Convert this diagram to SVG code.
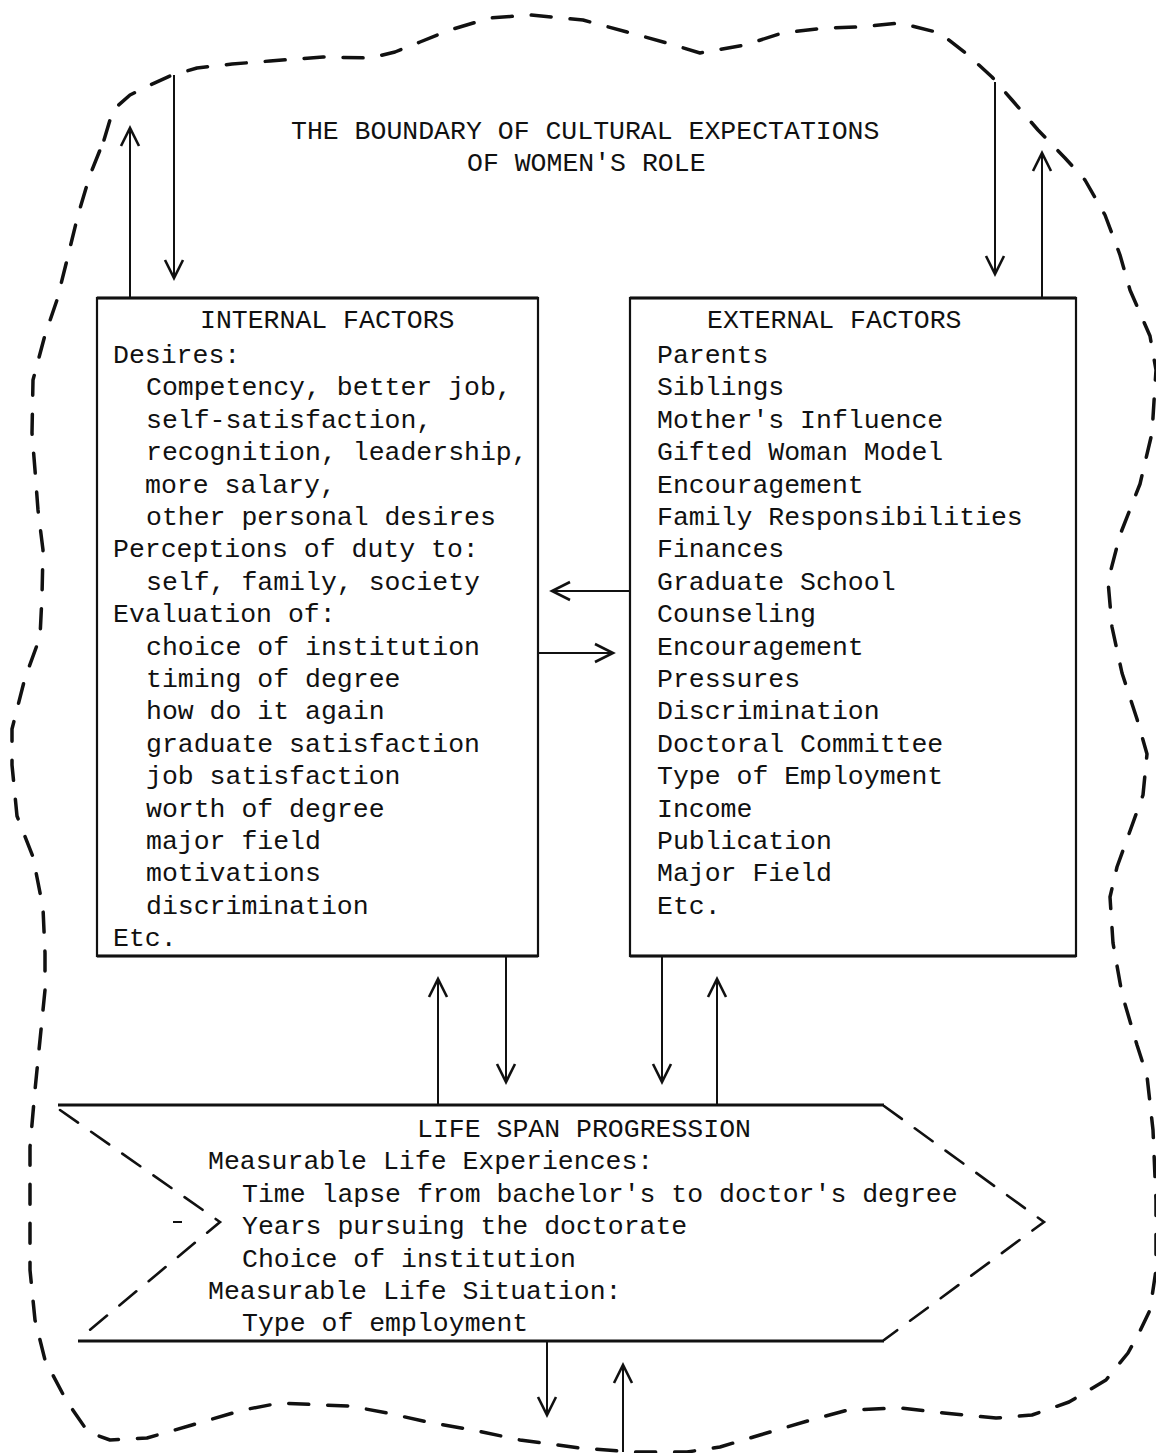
<svg xmlns="http://www.w3.org/2000/svg" width="1156" height="1453" viewBox="0 0 1156 1453">
<defs>
<style>
.t{font-family:"Liberation Mono","Courier New",monospace;font-size:26.5px;fill:#111}
.ln{stroke:#111;stroke-width:2;fill:none}
.bx{stroke:#111;stroke-width:2.2;fill:none}
.thick{stroke:#111;stroke-width:3.2;fill:none}
.dash{stroke:#111;stroke-width:3.5;fill:none;stroke-dasharray:20 19;stroke-linecap:round;stroke-linejoin:round}
.dash2{stroke:#111;stroke-width:2.6;fill:none;stroke-dasharray:22 16;stroke-linecap:round}
</style>
<marker id="ah" markerUnits="userSpaceOnUse" markerWidth="24" markerHeight="24" refX="20" refY="12" orient="auto">
<path d="M2,3 L20,12 L2,21" fill="none" stroke="#111" stroke-width="2.6" stroke-linejoin="miter"/>
</marker>
</defs>
<rect width="1156" height="1453" fill="#fff"/>

<g id="boundary">
<path class="dash" d="M104,140 L113,110 L130,95 L148,86 L170,76 L197,68 L232,64 L270,61 L323,57 L370,58 L395,52 L420,42 L450,30 L490,18 L531,15 L583,20 L627,32 L667,43 L700,53 L745,45 L782,33 L826,28 L859,27 L900,23 L940,33 L968,55 L992,77 L1012,100 L1038,130 L1065,158 L1085,180 L1105,215 L1120,255 L1130,290 L1150,336 L1156,370 L1152,433 L1140,484 L1120,535 L1108,581 L1112,627 L1122,673 L1137,719 L1147,754 L1143,795 L1130,831 L1117,867 L1110,897 L1113,943 L1122,994 L1137,1045 L1147,1076 L1153,1130 L1156,1200 L1156,1270 L1150,1310 L1139,1333 L1128,1353 L1106,1380 L1069,1402 L1032,1415 L996,1418 L944,1413 L900,1408 L848,1410 L811,1420 L760,1435 L720,1447 L687,1452 L633,1452 L580,1448 L520,1440 L473,1430 L432,1423 L387,1413 L350,1406 L324,1405 L280,1403 L243,1410 L192,1425 L147,1438 L110,1440 L88,1432 L66,1400 L45,1360 L35,1320 L30,1270 L30,1220 L30,1147 L35,1090 L40,1040 L45,990 L45,953 L43,908 L33,857 L17,816 L12,765 L12,729 L25,678 L40,637 L42,596 L43,550 L38,510 L35,470 L32,433 L33,380 L45,335 L57,300 L67,260 L78,215 L90,175 Z"/>
<text class="t" x="291" y="139">THE BOUNDARY OF CULTURAL EXPECTATIONS</text>
<text class="t" x="467" y="171">OF WOMEN'S ROLE</text>
</g>

<g id="internal">
<rect class="bx" x="97" y="298" width="441" height="658"/>
<line class="thick" x1="97" y1="298" x2="538" y2="298"/>
<line class="thick" x1="97" y1="956" x2="538" y2="956"/>
<text class="t" x="200" y="328">INTERNAL FACTORS</text>
<text class="t" x="113" y="363">Desires:</text>
<text class="t" x="146" y="395.4">Competency, better job,</text>
<text class="t" x="146" y="427.8">self-satisfaction,</text>
<text class="t" x="146" y="460.2">recognition, leadership,</text>
<text class="t" x="145" y="492.6">more salary,</text>
<text class="t" x="146" y="525">other personal desires</text>
<text class="t" x="113" y="557.4">Perceptions of duty to:</text>
<text class="t" x="146" y="589.8">self, family, society</text>
<text class="t" x="113" y="622.2">Evaluation of:</text>
<text class="t" x="146" y="654.6">choice of institution</text>
<text class="t" x="146" y="687">timing of degree</text>
<text class="t" x="146" y="719.4">how do it again</text>
<text class="t" x="146" y="751.8">graduate satisfaction</text>
<text class="t" x="146" y="784.2">job satisfaction</text>
<text class="t" x="146" y="816.6">worth of degree</text>
<text class="t" x="146" y="849">major field</text>
<text class="t" x="146" y="881.4">motivations</text>
<text class="t" x="146" y="913.8">discrimination</text>
<text class="t" x="113" y="946.2">Etc.</text>
</g>

<g id="external">
<rect class="bx" x="630" y="298" width="446" height="658"/>
<line class="thick" x1="630" y1="298" x2="1076" y2="298"/>
<line class="thick" x1="630" y1="956" x2="1076" y2="956"/>
<text class="t" x="707" y="328">EXTERNAL FACTORS</text>
<text class="t" x="657" y="363">Parents</text>
<text class="t" x="657" y="395.4">Siblings</text>
<text class="t" x="657" y="427.8">Mother's Influence</text>
<text class="t" x="657" y="460.2">Gifted Woman Model</text>
<text class="t" x="657" y="492.6">Encouragement</text>
<text class="t" x="657" y="525">Family Responsibilities</text>
<text class="t" x="657" y="557.4">Finances</text>
<text class="t" x="657" y="589.8">Graduate School</text>
<text class="t" x="657" y="622.2">Counseling</text>
<text class="t" x="657" y="654.6">Encouragement</text>
<text class="t" x="657" y="687">Pressures</text>
<text class="t" x="657" y="719.4">Discrimination</text>
<text class="t" x="657" y="751.8">Doctoral Committee</text>
<text class="t" x="657" y="784.2">Type of Employment</text>
<text class="t" x="657" y="816.6">Income</text>
<text class="t" x="657" y="849">Publication</text>
<text class="t" x="657" y="881.4">Major Field</text>
<text class="t" x="657" y="913.8">Etc.</text>
</g>

<g id="lifespan">
<line class="thick" x1="58" y1="1105" x2="884" y2="1105"/>
<line class="thick" x1="78" y1="1341" x2="884" y2="1341"/>
<polyline class="dash2" points="60,1110 220,1222 80,1338"/>
<polyline class="dash2" points="884,1106 1044,1222 884,1340"/>
<line class="ln" x1="173" y1="1222" x2="182" y2="1222"/>
<text class="t" x="417" y="1137">LIFE SPAN PROGRESSION</text>
<text class="t" x="208" y="1169">Measurable Life Experiences:</text>
<text class="t" x="242" y="1201.5">Time lapse from bachelor's to doctor's degree</text>
<text class="t" x="242" y="1234">Years pursuing the doctorate</text>
<text class="t" x="242" y="1266.5">Choice of institution</text>
<text class="t" x="208" y="1299">Measurable Life Situation:</text>
<text class="t" x="242" y="1331">Type of employment</text>
</g>

<g id="connectors">
<line class="ln" x1="130" y1="297" x2="130" y2="128" marker-end="url(#ah)"/>
<line class="ln" x1="174" y1="75" x2="174" y2="278" marker-end="url(#ah)"/>
<line class="ln" x1="995" y1="82" x2="995" y2="274" marker-end="url(#ah)"/>
<line class="ln" x1="1042" y1="297" x2="1042" y2="153" marker-end="url(#ah)"/>
<line class="ln" x1="629" y1="591" x2="552" y2="591" marker-end="url(#ah)"/>
<line class="ln" x1="539" y1="653" x2="613" y2="653" marker-end="url(#ah)"/>
<line class="ln" x1="438" y1="1104" x2="438" y2="979" marker-end="url(#ah)"/>
<line class="ln" x1="506" y1="957" x2="506" y2="1082" marker-end="url(#ah)"/>
<line class="ln" x1="662" y1="957" x2="662" y2="1082" marker-end="url(#ah)"/>
<line class="ln" x1="717" y1="1104" x2="717" y2="979" marker-end="url(#ah)"/>
<line class="ln" x1="547" y1="1342" x2="547" y2="1415" marker-end="url(#ah)"/>
<line class="ln" x1="623" y1="1452" x2="623" y2="1365" marker-end="url(#ah)"/>
</g>
</svg>
